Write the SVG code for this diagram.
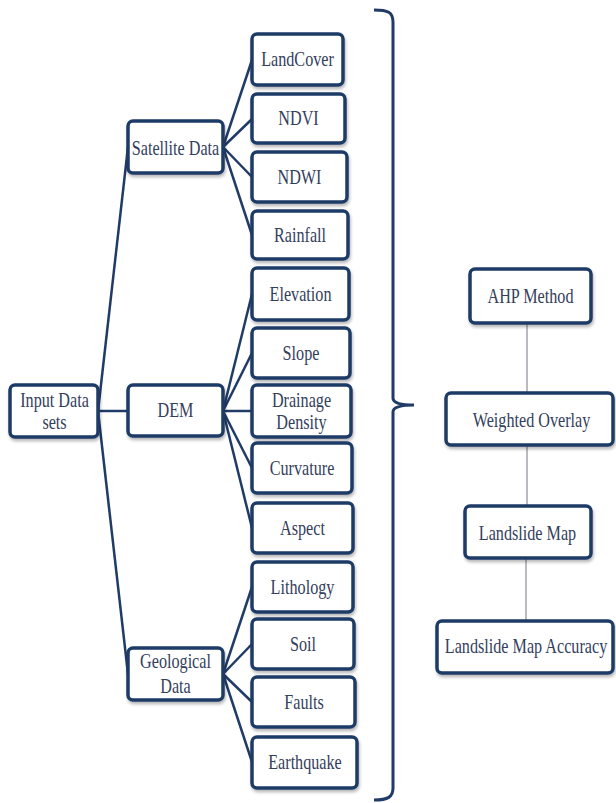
<svg xmlns="http://www.w3.org/2000/svg" width="616" height="803" viewBox="0 0 616 803">
<defs>
<filter id="sh" x="-10%" y="-10%" width="125%" height="135%">
<feDropShadow dx="1" dy="2.5" stdDeviation="1.5" flood-color="#000" flood-opacity="0.28"/>
</filter>
<style>
.box{fill:#fff;stroke:#1f3b66;stroke-width:3.5;filter:url(#sh)}
.t{font-family:'Liberation Serif','Times New Roman',serif;font-size:21px;fill:#33405c;text-anchor:middle}
.c{stroke:#1f3b66;stroke-width:2.5;fill:none}
.g{stroke:#8a8e96;stroke-width:1.2;fill:none}
</style>
</defs>
<rect width="616" height="803" fill="#fff"/>
<g id="connectors">
<line class="c" x1="98" y1="411" x2="128" y2="147"/>
<line class="c" x1="98" y1="411" x2="128" y2="411"/>
<line class="c" x1="98" y1="411" x2="128" y2="674"/>
<line class="c" x1="223" y1="147" x2="252" y2="60"/>
<line class="c" x1="223" y1="147" x2="252" y2="119"/>
<line class="c" x1="223" y1="147" x2="252" y2="177"/>
<line class="c" x1="223" y1="147" x2="252" y2="235"/>
<line class="c" x1="223" y1="411" x2="252" y2="294"/>
<line class="c" x1="223" y1="411" x2="252" y2="353"/>
<line class="c" x1="223" y1="411" x2="252" y2="411"/>
<line class="c" x1="223" y1="411" x2="252" y2="468"/>
<line class="c" x1="223" y1="411" x2="252" y2="528"/>
<line class="c" x1="223" y1="674" x2="252" y2="587"/>
<line class="c" x1="223" y1="674" x2="252" y2="644"/>
<line class="c" x1="223" y1="674" x2="252" y2="702"/>
<line class="c" x1="223" y1="674" x2="252" y2="762"/>
<line class="g" x1="527" y1="323" x2="527" y2="393"/>
<line class="g" x1="527" y1="445" x2="527" y2="506"/>
<line class="g" x1="526" y1="558" x2="526" y2="621"/>
<path id="brace" d="M374,10 C388,10 393,12 393,22 L393,398 C393,403 400,405 414,405 C400,405 393,407 393,412 L393,788 C393,797 388,800 374,800" stroke="#1f3b66" stroke-width="3" fill="none"/>
</g>
<g id="input"><rect class="box" x="10" y="385" width="88" height="52" rx="5"/><text class="t" transform="translate(54.5 0) scale(0.77 1)" y="407">Input Data</text><text class="t" transform="translate(54.5 0) scale(0.77 1)" y="429">sets</text></g>
<g id="satellite"><rect class="box" x="128" y="121" width="95" height="52" rx="5"/><text class="t" transform="translate(175.5 0) scale(0.77 1)" y="155">Satellite Data</text></g>
<g id="dem"><rect class="box" x="128" y="385" width="95" height="51" rx="5"/><text class="t" transform="translate(175.5 0) scale(0.77 1)" y="417.5">DEM</text></g>
<g id="geological"><rect class="box" x="128" y="648" width="95" height="52" rx="5"/><text class="t" transform="translate(175.5 0) scale(0.77 1)" y="668">Geological</text><text class="t" transform="translate(175.5 0) scale(0.77 1)" y="693">Data</text></g>
<g id="landcover"><rect class="box" x="252" y="34" width="91" height="51" rx="5"/><text class="t" transform="translate(297.5 0) scale(0.77 1)" y="66.5">LandCover</text></g>
<g id="ndvi"><rect class="box" x="252" y="94" width="93" height="49" rx="5"/><text class="t" transform="translate(298.5 0) scale(0.77 1)" y="125.5">NDVI</text></g>
<g id="ndwi"><rect class="box" x="252" y="152" width="95" height="50" rx="5"/><text class="t" transform="translate(299.5 0) scale(0.77 1)" y="184">NDWI</text></g>
<g id="rainfall"><rect class="box" x="252" y="211" width="96" height="48" rx="5"/><text class="t" transform="translate(300 0) scale(0.77 1)" y="242">Rainfall</text></g>
<g id="elevation"><rect class="box" x="252" y="268" width="97" height="52" rx="5"/><text class="t" transform="translate(300.5 0) scale(0.77 1)" y="301">Elevation</text></g>
<g id="slope"><rect class="box" x="252" y="328" width="98" height="50" rx="5"/><text class="t" transform="translate(301 0) scale(0.77 1)" y="360">Slope</text></g>
<g id="drainage"><rect class="box" x="252" y="385" width="99" height="52" rx="5"/><text class="t" transform="translate(301.5 0) scale(0.77 1)" y="407">Drainage</text><text class="t" transform="translate(301.5 0) scale(0.77 1)" y="429">Density</text></g>
<g id="curvature"><rect class="box" x="252" y="443" width="100" height="50" rx="5"/><text class="t" transform="translate(302 0) scale(0.77 1)" y="475">Curvature</text></g>
<g id="aspect"><rect class="box" x="252" y="503" width="101" height="50" rx="5"/><text class="t" transform="translate(302.5 0) scale(0.77 1)" y="535">Aspect</text></g>
<g id="lithology"><rect class="box" x="252" y="562" width="101" height="50" rx="5"/><text class="t" transform="translate(302.5 0) scale(0.77 1)" y="594">Lithology</text></g>
<g id="soil"><rect class="box" x="252" y="619" width="102" height="50" rx="5"/><text class="t" transform="translate(303 0) scale(0.77 1)" y="651">Soil</text></g>
<g id="faults"><rect class="box" x="252" y="677" width="103" height="50" rx="5"/><text class="t" transform="translate(304 0) scale(0.77 1)" y="709">Faults</text></g>
<g id="earthquake"><rect class="box" x="252" y="737" width="105" height="51" rx="5"/><text class="t" transform="translate(305 0) scale(0.77 1)" y="769">Earthquake</text></g>
<g id="ahp"><rect class="box" x="470" y="269" width="121" height="54" rx="5"/><text class="t" transform="translate(530.5 0) scale(0.77 1)" y="303">AHP Method</text></g>
<g id="weighted"><rect class="box" x="446" y="393" width="167" height="52" rx="5"/><text class="t" transform="translate(531.5 0) scale(0.77 1)" y="427">Weighted Overlay</text></g>
<g id="landslide"><rect class="box" x="465" y="506" width="126" height="52" rx="5"/><text class="t" transform="translate(527.5 0) scale(0.77 1)" y="540">Landslide Map</text></g>
<g id="accuracy"><rect class="box" x="437" y="621" width="176" height="52" rx="5"/><text class="t" transform="translate(526 0) scale(0.77 1)" y="653">Landslide Map Accuracy</text></g>
</svg>
